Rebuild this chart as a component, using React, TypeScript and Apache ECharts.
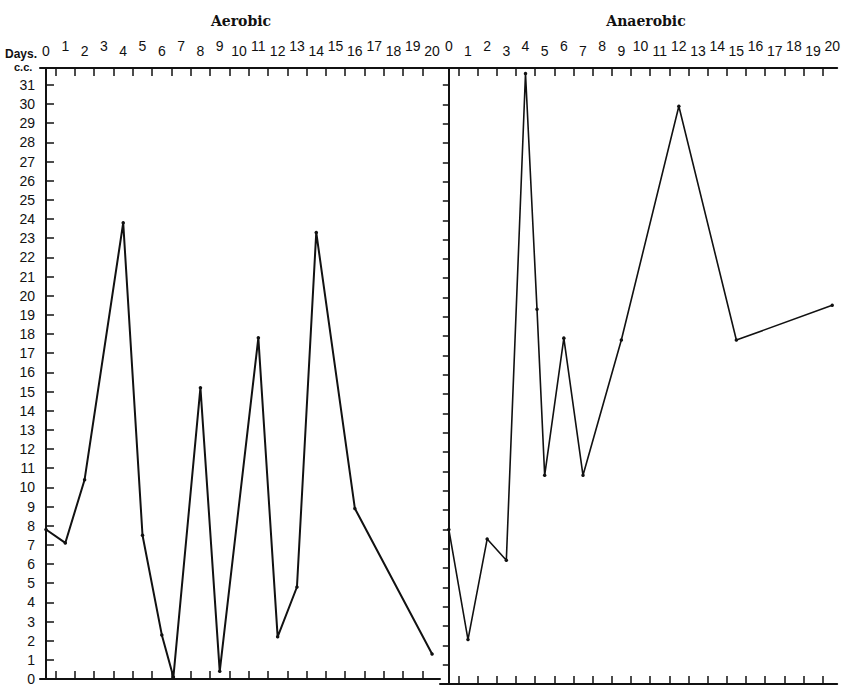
import React, { useEffect, useRef } from "react";
import * as echarts from "echarts";

// Days with measurements (x) and volume in c.c. (y)
const aerobicDays = [0, 1, 2, 4, 5, 6, 6.6, 8, 9, 11, 12, 13, 14, 16, 20];
const aerobicCC = [7.8, 7.1, 10.4, 23.8, 7.5, 2.3, 0.1, 15.2, 0.4, 17.8, 2.2, 4.8, 23.3, 8.9, 1.3];

const anaerobicDays = [0, 1, 2, 3, 4, 4.6, 5, 6, 7, 9, 12, 15, 20];
const anaerobicCC = [8.0, 2.3, 7.5, 6.4, 31.6, 19.4, 10.8, 17.9, 10.8, 17.8, 29.9, 17.8, 19.6];

const dayLabels = Array.from({ length: 21 }, (_, i) => i); // 0..20
const oddDays = dayLabels.filter((d) => d % 2 === 1);
const evenDays = dayLabels.filter((d) => d % 2 === 0);
const dayTicks = Array.from({ length: 20 }, (_, i) => i + 0.5); // tick marks between days
const ccLabels = Array.from({ length: 32 }, (_, i) => i); // 0..31
const ccTicks = Array.from({ length: 31 }, (_, i) => i + 1); // 1..31

const INK = "#111";
const SANS = "Liberation Sans";

function topAxis(
  gridIndex: number,
  min: number,
  max: number,
  labels: number[],
  margin: number,
  withLine: boolean
) {
  return {
    gridIndex,
    type: "value",
    position: "top",
    min,
    max,
    axisLine: { show: withLine, onZero: false, lineStyle: { color: INK, width: 2 } },
    axisTick: {
      show: withLine,
      inside: true,
      length: 8,
      customValues: dayTicks,
      lineStyle: { color: INK, width: 1.5 },
    },
    axisLabel: {
      show: true,
      customValues: labels,
      margin,
      fontFamily: SANS,
      fontSize: 14,
      color: INK,
      formatter: (v: number) => String(Math.round(v)),
    },
    splitLine: { show: false },
  };
}

function bottomAxis(gridIndex: number, min: number, max: number) {
  return {
    gridIndex,
    type: "value",
    position: "bottom",
    min,
    max,
    axisLine: { show: true, onZero: false, lineStyle: { color: INK, width: 2 } },
    axisTick: { show: true, inside: true, length: 8, customValues: dayTicks, lineStyle: { color: INK, width: 1.5 } },
    axisLabel: { show: false },
    splitLine: { show: false },
  };
}

export default function App() {
  const ref = useRef<HTMLDivElement>(null);

  useEffect(() => {
    if (!ref.current) return;
    const chart = echarts.init(ref.current, undefined, { renderer: "svg" });
    const yMax = 31.88;
    const leftMin = -0.31, leftMax = 20.41;
    const rightMin = -0.46, rightMax = 20.26;
    const HI = 15, LO = 10;

    const option: any = {
      animation: false,
      backgroundColor: "#fff",
      title: [
        {
          text: "Aerobic",
          left: 236,
          top: 9,
          textAlign: "center",
          textStyle: { fontFamily: "DejaVu Serif", fontSize: 14, fontWeight: 600, color: INK },
        },
        {
          text: "Anaerobic",
          left: 641,
          top: 9,
          textAlign: "center",
          textStyle: { fontFamily: "DejaVu Serif", fontSize: 14, fontWeight: 600, color: INK },
        },
      ],
      graphic: [
        {
          type: "text",
          left: 5,
          top: 48,
          style: { text: "Days.", fontFamily: SANS, fontSize: 12, fontWeight: "bold", fill: INK },
        },
        {
          type: "text",
          left: 14,
          top: 61,
          style: { text: "c.c.", fontFamily: SANS, fontSize: 11, fontWeight: "bold", fill: INK },
        },
      ],
      grid: [
        { left: 40, top: 68, width: 400, height: 616 },
        { left: 440, top: 68, width: 403, height: 616 },
      ],
      xAxis: [
        bottomAxis(0, leftMin, leftMax),
        topAxis(0, leftMin, leftMax, evenDays, LO, true),
        topAxis(0, leftMin, leftMax, oddDays, HI, false),
        bottomAxis(1, rightMin, rightMax),
        topAxis(1, rightMin, rightMax, oddDays, LO, true),
        topAxis(1, rightMin, rightMax, evenDays, HI, false),
      ],
      yAxis: [
        {
          gridIndex: 0,
          type: "value",
          position: "left",
          min: 0,
          max: yMax,
          axisLine: { show: true, lineStyle: { color: INK, width: 2 } },
          axisTick: { show: true, inside: true, length: 8, customValues: ccTicks, lineStyle: { color: INK, width: 1.5 } },
          axisLabel: {
            show: true,
            customValues: ccLabels,
            margin: 5,
            fontFamily: SANS,
            fontSize: 14,
            color: INK,
          },
          splitLine: { show: false },
        },
        {
          gridIndex: 0,
          type: "value",
          position: "right",
          min: 0,
          max: yMax,
          axisLine: { show: true, lineStyle: { color: INK, width: 2 } },
          axisTick: { show: false },
          axisLabel: { show: false },
          splitLine: { show: false },
        },
        {
          gridIndex: 1,
          type: "value",
          position: "left",
          min: 0,
          max: yMax,
          axisLine: { show: true, lineStyle: { color: INK, width: 2 } },
          axisTick: { show: false },
          axisLabel: { show: false },
          splitLine: { show: false },
        },
        {
          gridIndex: 1,
          type: "value",
          position: "right",
          min: 0,
          max: yMax,
          axisLine: { show: false },
          axisTick: { show: true, inside: true, length: 6, customValues: ccTicks, lineStyle: { color: INK, width: 1.5 } },
          axisLabel: { show: false },
          splitLine: { show: false },
        },
      ],
      series: [
        {
          name: "Aerobic",
          type: "line",
          xAxisIndex: 0,
          yAxisIndex: 0,
          data: aerobicDays.map((d, i) => [d, aerobicCC[i]]),
          symbol: "circle",
          symbolSize: 3.5,
          showSymbol: true,
          itemStyle: { color: INK },
          lineStyle: { color: INK, width: 2 },
        },
        {
          name: "Anaerobic",
          type: "line",
          xAxisIndex: 3,
          yAxisIndex: 2,
          data: anaerobicDays.map((d, i) => [d, anaerobicCC[i]]),
          symbol: "circle",
          symbolSize: 3.5,
          showSymbol: true,
          itemStyle: { color: INK },
          lineStyle: { color: INK, width: 1.6 },
        },
      ],
    };
    chart.setOption(option);
    return () => chart.dispose();
  }, []);

  return (
    <div
      ref={ref}
      style={{ position: "fixed", left: 0, top: 0, width: 843, height: 686, background: "#fff" }}
    />
  );
}
